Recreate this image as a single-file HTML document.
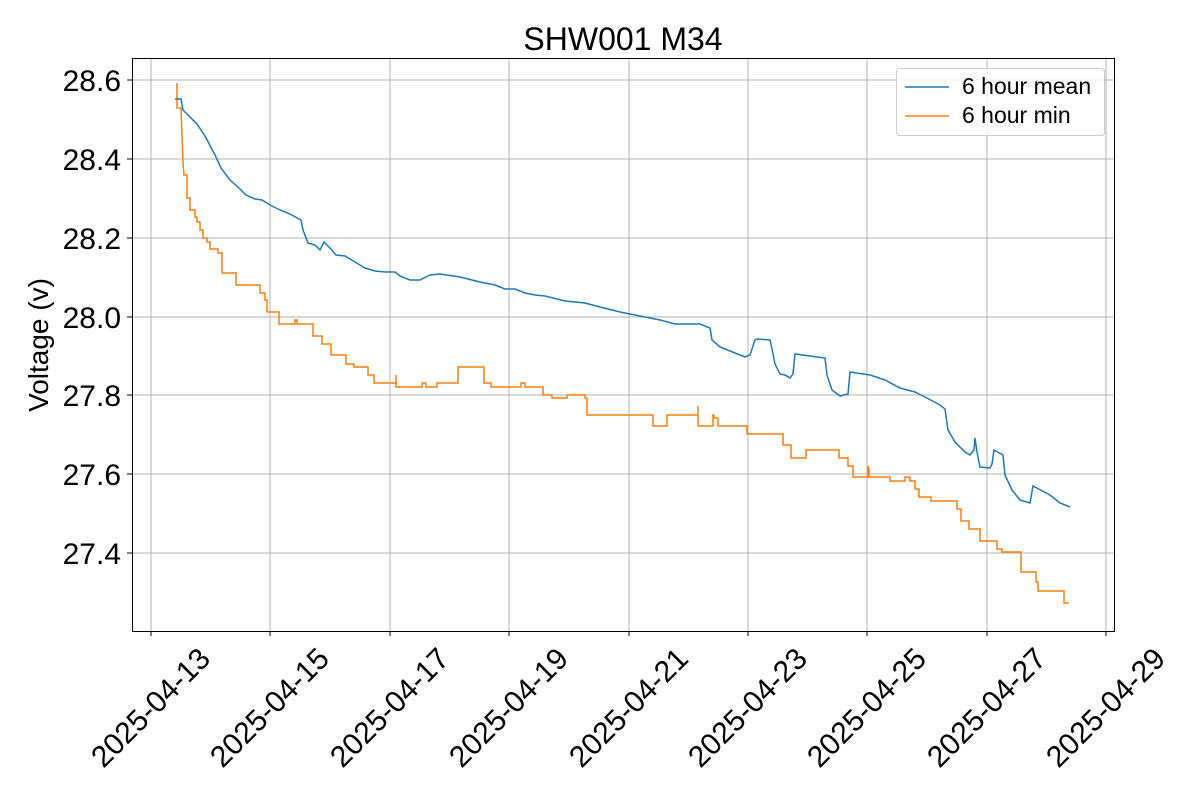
<!DOCTYPE html>
<html><head><meta charset="utf-8"><style>body{margin:0;background:#fff}svg{display:block}text{font-family:"Liberation Sans","DejaVu Sans",sans-serif;fill:#000}</style></head>
<body>
<svg width="1200" height="800" viewBox="0 0 1200 800" xmlns="http://www.w3.org/2000/svg">
<g stroke="#b0b0b0" stroke-width="1">
<line x1="151" y1="58" x2="151" y2="631"/><line x1="270" y1="58" x2="270" y2="631"/><line x1="390" y1="58" x2="390" y2="631"/><line x1="509" y1="58" x2="509" y2="631"/><line x1="629" y1="58" x2="629" y2="631"/><line x1="748" y1="58" x2="748" y2="631"/><line x1="867" y1="58" x2="867" y2="631"/><line x1="987" y1="58" x2="987" y2="631"/><line x1="1106" y1="58" x2="1106" y2="631"/>
<line x1="132" y1="80" x2="1114" y2="80"/><line x1="132" y1="159" x2="1114" y2="159"/><line x1="132" y1="238" x2="1114" y2="238"/><line x1="132" y1="317" x2="1114" y2="317"/><line x1="132" y1="395" x2="1114" y2="395"/><line x1="132" y1="474" x2="1114" y2="474"/><line x1="132" y1="553" x2="1114" y2="553"/>
</g>
<polyline fill="none" stroke="#ff7f0e" stroke-width="1.5" points="177,83 177,108 181,108 182,135 183,163 184,175 187,175 187,198 190,198 190,210 195,210 195,217 197,217 197,222 200,222 200,230 203,230 203,238 207,238 207,242 210,242 210,249 218,249 218,253 222,253 222,273 236,273 236,285 260,285 260,293 265,293 265,300 267,300 267,312 279,312 279,324 295,324 295,320 297,320 297,324 313,324 313,336 322,336 322,344 331,344 331,355 346,355 346,364 354,364 354,367 368,367 368,375 374,375 374,383 396,383 396,375 396,387 397,387 397,387 422,387 422,383 426,383 426,387 437,387 437,383 443,383 443,383 458,383 458,367 484,367 484,383 491,383 491,387 521,387 521,383 525,383 525,387 543,387 543,395 552,395 552,398 567,398 567,395 585,395 585,398 587,398 587,415 653,415 653,426 667,426 667,415 698,415 698,406 698,426 713,426 713,415 714,415 714,418 718,418 718,426 747,426 747,434 783,434 783,445 791,445 791,458 806,458 806,450 839,450 839,458 848,458 848,466 853,466 853,477 868,477 868,466 869,470 869,477 890,477 890,481 905,481 905,477 910,477 910,481 915,481 915,489 919,489 919,497 931,497 931,501 957,501 957,509 961,509 961,521 969,521 969,529 980,529 980,541 997,541 997,549 1002,549 1002,552 1021,552 1021,572 1036,572 1036,582 1038,582 1038,591 1064,591 1064,603 1069,603"/>
<polyline fill="none" stroke="#1f77b4" stroke-width="1.5" points="175,99 181,99 183,110 190,117 197,124 205,136 215,155 221,168 230,180 240,189 246,195 255,199 262,200 270,205 280,210 290,214 301,220 303,230 308,243 315,245 320,250 324,242 330,248 336,255 345,256 355,262 365,268 375,271 385,272 395,272 400,276 410,280 420,280 430,275 440,274 460,277 480,282 495,285 505,289 515,289 525,293 535,295 545,296 565,301 585,303 600,307 620,312 640,316 660,320 675,324 690,324 700,324 710,328 712,340 720,347 735,353 745,357 750,355 755,340 757,339 770,340 772,349 775,364 780,374 785,375 790,378 793,374 795,354 810,356 825,358 827,375 832,390 840,396 848,394 850,372 870,375 885,380 900,388 915,392 925,397 940,405 945,409 948,430 955,442 965,452 970,455 974,450 975,438 977,452 980,467 990,468 992,464 994,450 1003,455 1005,475 1012,490 1020,500 1030,503 1033,486 1050,495 1060,503 1070,507"/>
<rect x="132.5" y="58.5" width="982" height="573" fill="none" stroke="#000" stroke-width="1"/>
<g stroke="#000"><line x1="151" y1="631" x2="151" y2="636"/><line x1="270" y1="631" x2="270" y2="636"/><line x1="390" y1="631" x2="390" y2="636"/><line x1="509" y1="631" x2="509" y2="636"/><line x1="629" y1="631" x2="629" y2="636"/><line x1="748" y1="631" x2="748" y2="636"/><line x1="867" y1="631" x2="867" y2="636"/><line x1="987" y1="631" x2="987" y2="636"/><line x1="1106" y1="631" x2="1106" y2="636"/>
<line x1="127" y1="80" x2="132" y2="80"/><line x1="127" y1="159" x2="132" y2="159"/><line x1="127" y1="238" x2="132" y2="238"/><line x1="127" y1="317" x2="132" y2="317"/><line x1="127" y1="395" x2="132" y2="395"/><line x1="127" y1="474" x2="132" y2="474"/><line x1="127" y1="553" x2="132" y2="553"/></g>
<g font-size="30" text-anchor="end"><text x="121" y="91">28.6</text><text x="121" y="170">28.4</text><text x="121" y="249">28.2</text><text x="121" y="328">28.0</text><text x="121" y="406">27.8</text><text x="121" y="485">27.6</text><text x="121" y="564">27.4</text></g>
<g font-size="30" text-anchor="middle" dominant-baseline="central">
<text transform="translate(151,708) rotate(-45)">2025-04-13</text><text transform="translate(270,708) rotate(-45)">2025-04-15</text><text transform="translate(390,708) rotate(-45)">2025-04-17</text><text transform="translate(509,708) rotate(-45)">2025-04-19</text><text transform="translate(629,708) rotate(-45)">2025-04-21</text><text transform="translate(748,708) rotate(-45)">2025-04-23</text><text transform="translate(867,708) rotate(-45)">2025-04-25</text><text transform="translate(987,708) rotate(-45)">2025-04-27</text><text transform="translate(1106,708) rotate(-45)">2025-04-29</text></g>
<text x="623" y="50" font-size="32" text-anchor="middle">SHW001 M34</text>
<text transform="translate(48,345) rotate(-90)" font-size="28" text-anchor="middle">Voltage (v)</text>
<rect x="896.5" y="68.5" width="208" height="67" rx="3" fill="#fff" fill-opacity="0.8" stroke="#ccc"/>
<line x1="905" y1="87" x2="949" y2="87" stroke="#1f77b4" stroke-width="1.5"/>
<line x1="905" y1="116" x2="949" y2="116" stroke="#ff7f0e" stroke-width="1.5"/>
<text x="962" y="94" font-size="23">6 hour mean</text><text x="962" y="123" font-size="23">6 hour min</text>
</svg>
</body></html>
